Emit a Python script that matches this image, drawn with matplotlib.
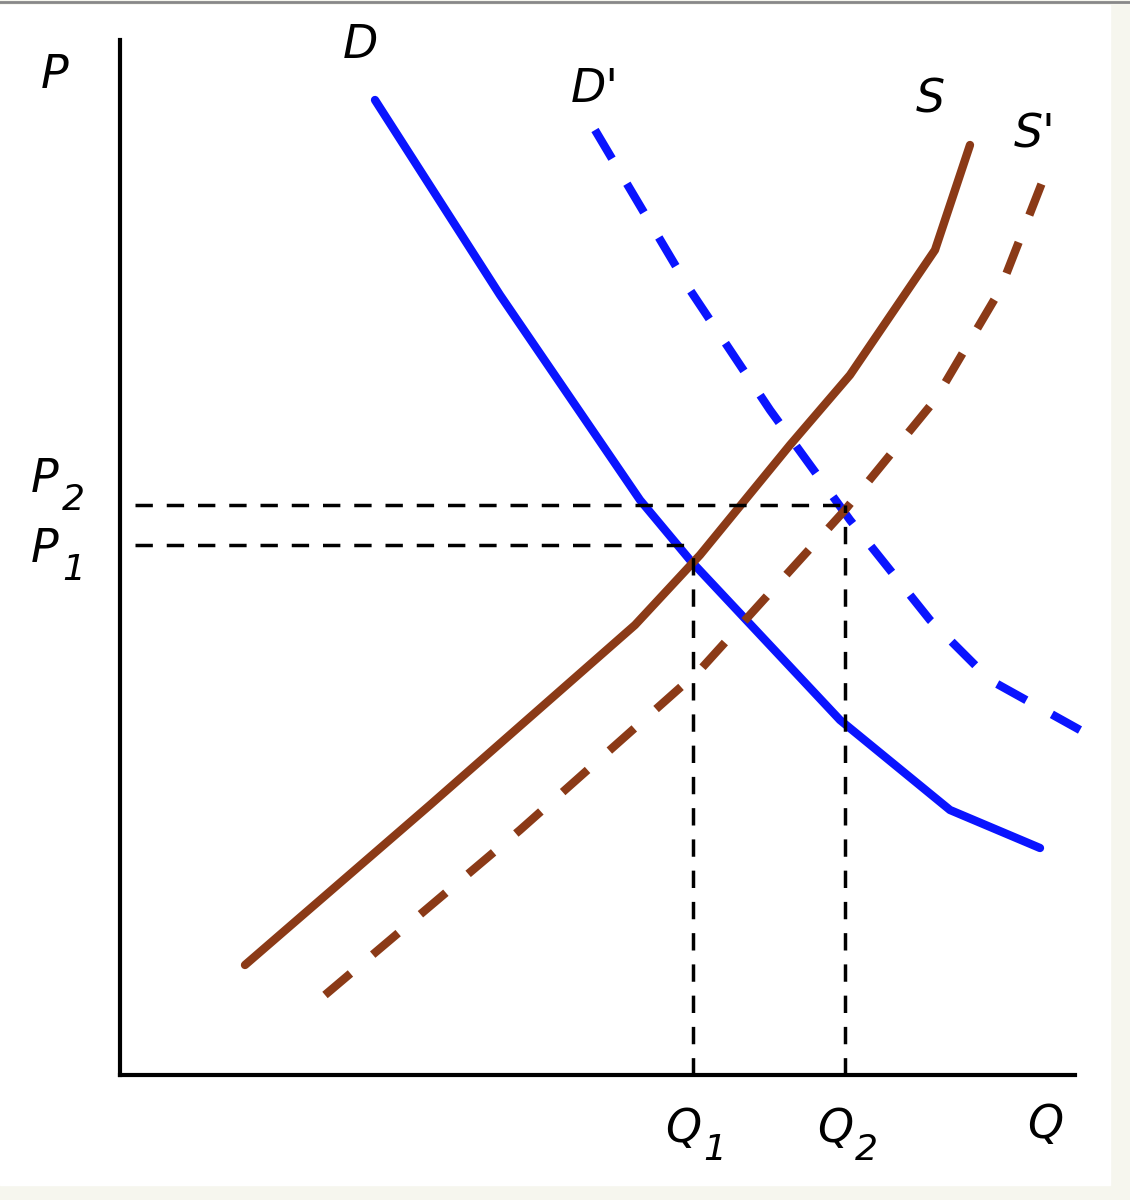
import matplotlib.pyplot as plt
import numpy as np

# Q and P (origin at the axes corner)
d_q = [255, 380, 520, 570, 720, 830, 920]
d_p = [975, 780, 575, 515, 355, 265, 227]
d2_q = [475, 570, 650, 730, 810, 870, 960]
d2_p = [945, 785, 665, 555, 455, 395, 345]
s_q = [125, 310, 515, 580, 670, 730, 815, 850]
s_p = [110, 270, 450, 520, 630, 700, 825, 930]
s2_q = [205, 400, 580, 725, 815, 880, 925]
s2_p = [80, 245, 405, 565, 675, 785, 900]
q1, q2 = 573, 725
p1, p2 = 530, 570

fig = plt.figure(figsize=(11.3, 12), dpi=100, facecolor='#f6f6ee')
ax = fig.add_axes([0, 0, 1, 1])
ax.set_facecolor('white')
ax.set_xlim(-120, 1010)
ax.set_ylim(-125, 1075)
ax.axis('off')

# fondo del panel y línea superior
ax.add_patch(plt.Rectangle((-120, -110), 1110, 1180, color='white', zorder=0))
ax.plot([-120, 1010], [1073, 1073], color='#888888', lw=2)

# ejes
ax.plot([0, 0], [0, 1035], color='black', lw=3)
ax.plot([0, 955], [0, 0], color='black', lw=3)

blue = '#0a14ff'
brown = '#8b3a17'
ax.plot(d_q, d_p, color=blue, lw=6, solid_capstyle='round')
ax.plot(d2_q, d2_p, color=blue, lw=6, dashes=(4, 3.5))
ax.plot(s_q, s_p, color=brown, lw=6, solid_capstyle='round')
ax.plot(s2_q, s2_p, color=brown, lw=6, dashes=(4, 3.5))

dash = dict(color='black', lw=2.5, dashes=(5, 4))
ax.plot([15, q2], [p2, p2], **dash)
ax.plot([15, q1], [p1, p1], **dash)
ax.plot([q1, q1], [0, p1], **dash)
ax.plot([q2, q2], [0, p2], **dash)

fs = 33
t = dict(fontsize=fs, style='italic', family='DejaVu Sans', ha='center', va='center')
sub = dict(fontsize=26, style='italic', family='DejaVu Sans', ha='left', va='center')
ax.text(-65, 1000, 'P', **t)
ax.text(240, 1030, 'D', **t)
ax.text(475, 985, "D'", **t)
ax.text(810, 975, 'S', **t)
ax.text(915, 940, "S'", **t)
ax.text(-75, 595, 'P', **t)
ax.text(-58, 575, '2', **sub)
ax.text(-75, 525, 'P', **t)
ax.text(-58, 505, '1', **sub)
ax.text(q1 - 10, -55, 'Q', **t)
ax.text(q1 + 10, -75, '1', **sub)
ax.text(q2 - 10, -55, 'Q', **t)
ax.text(q2 + 10, -75, '2', **sub)
ax.text(925, -50, 'Q', **t)

fig.savefig('out.png', dpi=100, facecolor=fig.get_facecolor())
